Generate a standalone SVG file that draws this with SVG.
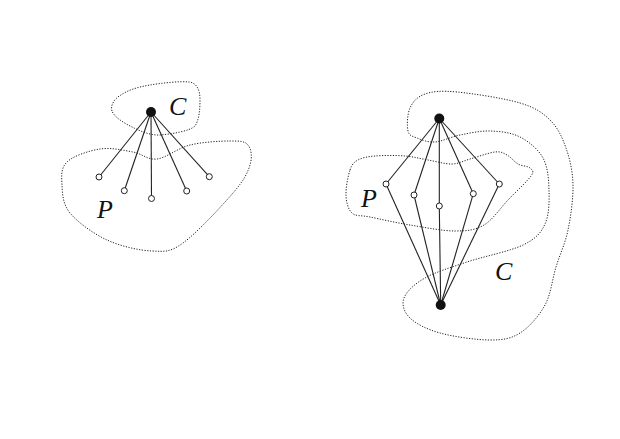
<svg xmlns="http://www.w3.org/2000/svg" width="620" height="439" viewBox="0 0 620 439">
<style>
.region{fill:none;stroke:#222;stroke-width:1;stroke-dasharray:1.2 1.5}
.edge{stroke:#222;stroke-width:1.1;fill:none}
.open{fill:#fff;stroke:#222;stroke-width:1}
.solid{fill:#111}
.lbl{font-family:"Liberation Serif","DejaVu Serif",serif;font-style:italic;font-size:26px;fill:#111}
</style>
<rect width="620" height="439" fill="#fff"/>
<g id="regions">
<path id="left-C" class="region" d="M112,111 C110,105 115,98 121,95 C128,90 138,87 150,85 C162,83 180,81 189,82 C197,83 200,90 200,100 C200,110 199,120 195,126 C190,131 172,134 160,135 C150,135.5 140,131 132,127 C124,123 114,117 112,111 Z"/>
<path id="left-P" class="region" d="M67,162 C72.5,156.2 89,150.7 100,149 C111,147.3 123.5,150.3 133,152 C142.5,153.7 147.5,160.2 157,159 C166.5,157.8 177.8,148 190,145 C202.2,142 220.3,141 230,141 C239.7,141 244.7,141 248,145 C251.3,149 252.5,157 250,165 C247.5,173 244.2,180 233,193 C221.8,206 196.5,233.3 183,243 C169.5,252.7 164.7,251.5 152,251 C139.3,250.5 120.7,246.3 107,240 C93.3,233.7 77.5,222.2 70,213 C62.5,203.8 62.5,193.5 62,185 C61.5,176.5 60.7,168 67,162 Z"/>
<path id="right-P" class="region" d="M350,170 C352,164.2 353.8,162.3 358,160 C362.2,157.7 367.2,156.7 375,156 C382.8,155.3 396.2,155.3 405,156 C413.8,156.7 420.2,158.7 428,160 C435.8,161.3 445,164.2 452,164 C459,163.8 462.8,161 470,159 C477.2,157 488.8,152.7 495,152 C501.2,151.3 503.2,153 507,155 C510.8,157 514.2,161.8 518,164 C521.8,166.2 527.8,166 530,168 C532.2,170 534.7,170.7 531,176 C527.3,181.3 515.8,191.8 508,200 C500.2,208.2 492.8,219.8 484,225 C475.2,230.2 467.3,231 455,231 C442.7,231 424.2,227.3 410,225 C395.8,222.7 379.7,219 370,217 C360.3,215 356,216.7 352,213 C348,209.3 346.3,202.2 346,195 C345.7,187.8 348,175.8 350,170 Z"/>
<path id="right-C" class="region" d="M408,131 C406.8,126 407.2,114.2 410,108 C412.8,101.8 417.2,96.7 425,94 C432.8,91.3 441.2,90.5 457,92 C472.8,93.5 504.5,98.3 520,103 C535.5,107.7 542.3,112.5 550,120 C557.7,127.5 562.2,137.2 566,148 C569.8,158.8 572.7,171.3 573,185 C573.3,198.7 570.8,216.3 568,230 C565.2,243.7 559.8,254.5 556,267 C552.2,279.5 551,294 545,305 C539,316 529.2,327.2 520,333 C510.8,338.8 503.3,340 490,340 C476.7,340 453.3,336.7 440,333 C426.7,329.3 416,323.8 410,318 C404,312.2 401.5,304.7 404,298 C406.5,291.3 414.5,284 425,278 C435.5,272 450.7,267.5 467,262 C483.3,256.5 510,251.3 523,245 C536,238.7 540.7,233.2 545,224 C549.3,214.8 549.3,201 549,190 C548.7,179 547.8,166.8 543,158 C538.2,149.2 528.8,141.5 520,137 C511.2,132.5 500,131.3 490,131 C480,130.7 469.2,133.2 460,135 C450.8,136.8 442.2,141.5 435,142 C427.8,142.5 421.5,139.8 417,138 C412.5,136.2 409.2,136 408,131 Z"/>
</g>
<g id="connectors">
<line class="edge" x1="151" y1="112" x2="99" y2="177"/>
<line class="edge" x1="151" y1="112" x2="124.3" y2="190.7"/>
<line class="edge" x1="151" y1="112" x2="151.5" y2="198.5"/>
<line class="edge" x1="151" y1="112" x2="186.7" y2="191"/>
<line class="edge" x1="151" y1="112" x2="209.3" y2="176.7"/>
<line class="edge" x1="439.3" y1="118.5" x2="386" y2="184"/>
<line class="edge" x1="439.3" y1="118.5" x2="414" y2="195"/>
<line class="edge" x1="439.3" y1="118.5" x2="439.3" y2="206"/>
<line class="edge" x1="439.3" y1="118.5" x2="473.3" y2="193.7"/>
<line class="edge" x1="439.3" y1="118.5" x2="499.3" y2="184"/>
<line class="edge" x1="440.7" y1="305" x2="386" y2="184"/>
<line class="edge" x1="440.7" y1="305" x2="414" y2="195"/>
<line class="edge" x1="440.7" y1="305" x2="439.3" y2="206"/>
<line class="edge" x1="440.7" y1="305" x2="473.3" y2="193.7"/>
<line class="edge" x1="440.7" y1="305" x2="499.3" y2="184"/>
</g>
<g id="left-hub"><circle class="solid" cx="151" cy="112" r="5"/></g>
<g id="left-p1"><circle class="open" cx="99" cy="177" r="3"/></g>
<g id="left-p2"><circle class="open" cx="124.3" cy="190.7" r="3"/></g>
<g id="left-p3"><circle class="open" cx="151.5" cy="198.5" r="3"/></g>
<g id="left-p4"><circle class="open" cx="186.7" cy="191" r="3"/></g>
<g id="left-p5"><circle class="open" cx="209.3" cy="176.7" r="3"/></g>
<g id="right-top"><circle class="solid" cx="439.3" cy="118.5" r="5"/></g>
<g id="right-bottom"><circle class="solid" cx="440.7" cy="305" r="5"/></g>
<g id="right-p1"><circle class="open" cx="386" cy="184" r="3"/></g>
<g id="right-p2"><circle class="open" cx="414" cy="195" r="3"/></g>
<g id="right-p3"><circle class="open" cx="439.3" cy="206" r="3"/></g>
<g id="right-p4"><circle class="open" cx="473.3" cy="193.7" r="3"/></g>
<g id="right-p5"><circle class="open" cx="499.3" cy="184" r="3"/></g>
<g id="labels">
<text class="lbl" x="169" y="115">C</text>
<text class="lbl" x="97" y="218">P</text>
<text class="lbl" x="361" y="206.5">P</text>
<text class="lbl" x="495" y="280">C</text>
</g>
</svg>
